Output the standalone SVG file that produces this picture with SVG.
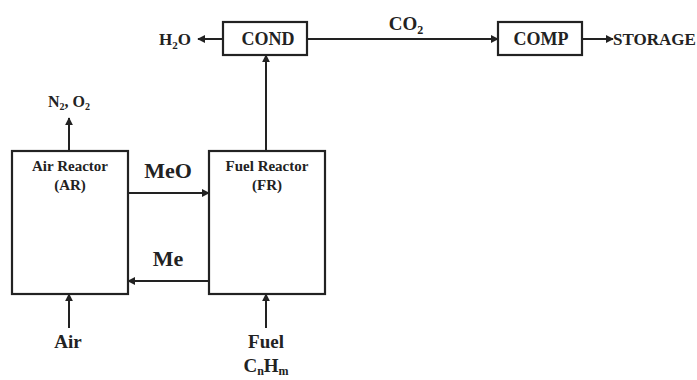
<svg xmlns="http://www.w3.org/2000/svg" width="697" height="380" viewBox="0 0 697 380">
<style>
.box{fill:#fff;stroke:#222;stroke-width:2.2}
.ln{fill:none;stroke:#222;stroke-width:2}
text{font-family:"Liberation Serif","Times New Roman",serif;font-weight:bold;fill:#222}
.big{font-size:22px}
.mid{font-size:18px}
.io{font-size:19px}
.sm{font-size:15px}
</style>
<defs>
<marker id="ah" viewBox="0 0 10 10" refX="9" refY="5" markerWidth="4" markerHeight="4" orient="auto" markerUnits="strokeWidth">
<path d="M0,0 L10,5 L0,10 z" fill="#222"/>
</marker>
</defs>
<g id="connectors">
<line class="ln" x1="69" y1="151" x2="69" y2="118" marker-end="url(#ah)"/>
<line class="ln" x1="128" y1="193" x2="209" y2="193" marker-end="url(#ah)"/>
<line class="ln" x1="209" y1="281" x2="128" y2="281" marker-end="url(#ah)"/>
<line class="ln" x1="266" y1="151" x2="266" y2="55" marker-end="url(#ah)"/>
<line class="ln" x1="223" y1="39" x2="198" y2="39" marker-end="url(#ah)"/>
<line class="ln" x1="307" y1="39" x2="498" y2="39" marker-end="url(#ah)"/>
<line class="ln" x1="582" y1="39" x2="613" y2="39" marker-end="url(#ah)"/>
<line class="ln" x1="69" y1="328" x2="69" y2="294" marker-end="url(#ah)"/>
<line class="ln" x1="266" y1="328" x2="266" y2="294" marker-end="url(#ah)"/>
</g>
<g id="ar">
<rect class="box" x="12" y="151" width="116" height="143"/>
<text class="sm" x="70" y="171" text-anchor="middle">Air Reactor</text>
<text class="sm" x="70" y="190" text-anchor="middle">(AR)</text>
</g>
<g id="fr">
<rect class="box" x="209" y="151" width="116" height="143"/>
<text class="sm" x="267" y="171" text-anchor="middle">Fuel Reactor</text>
<text class="sm" x="267" y="190" text-anchor="middle">(FR)</text>
</g>
<g id="cond">
<rect class="box" x="223" y="22" width="84" height="33"/>
<text class="mid" x="268" y="45" text-anchor="middle">COND</text>
</g>
<g id="comp">
<rect class="box" x="498" y="22" width="84" height="33"/>
<text class="mid" x="541" y="45" text-anchor="middle">COMP</text>
</g>
<g id="labels">
<text style="font-size:17px" x="175" y="45" text-anchor="middle">H<tspan font-size="11" dy="4">2</tspan><tspan dy="-4">O</tspan></text>
<text style="font-size:17px" x="613" y="45">STORAGE</text>
<text style="font-size:19px" x="406" y="30" text-anchor="middle">CO<tspan font-size="12" dy="4">2</tspan></text>
<text style="font-size:16px" x="69" y="107" text-anchor="middle">N<tspan font-size="10" dy="3">2</tspan><tspan dy="-3">, O</tspan><tspan font-size="10" dy="3">2</tspan></text>
<text class="big" x="168" y="178" text-anchor="middle">MeO</text>
<text class="big" x="168" y="266" text-anchor="middle">Me</text>
<text class="io" x="68" y="348" text-anchor="middle">Air</text>
<text class="io" x="266" y="348" text-anchor="middle">Fuel</text>
<text class="io" x="266" y="372" text-anchor="middle">C<tspan font-size="12" dy="3">n</tspan><tspan dy="-3">H</tspan><tspan font-size="12" dy="3">m</tspan></text>
</g>
</svg>
